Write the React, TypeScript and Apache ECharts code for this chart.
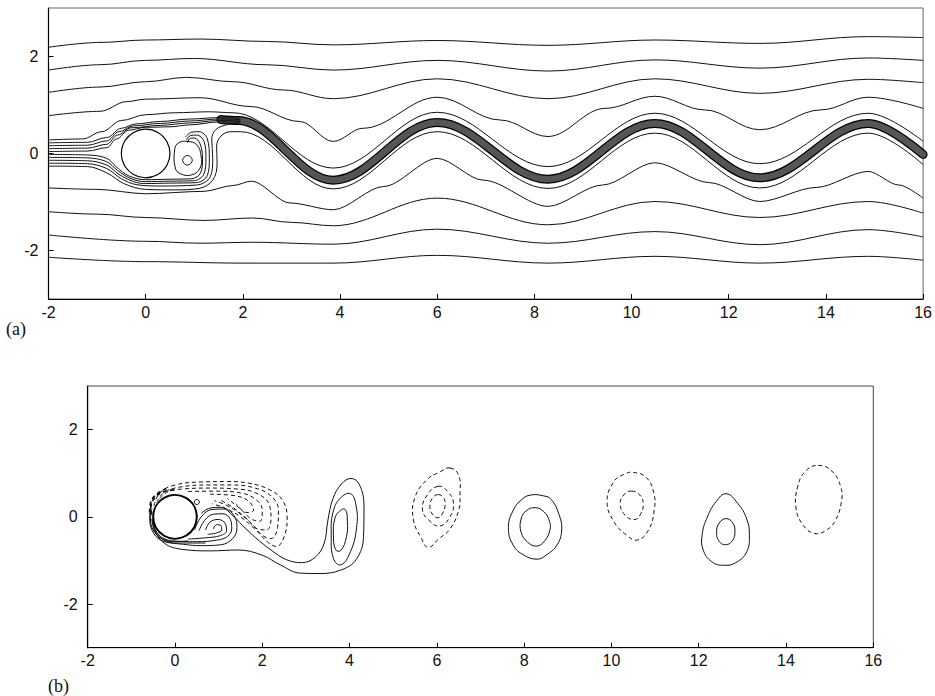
import React, { useEffect, useRef } from "react";
import * as echarts from "echarts";

// ---------- axes ----------
const xTickValues = [-2, 0, 2, 4, 6, 8, 10, 12, 14, 16];
const yTickValues = [-2, 0, 2];

// ---------- panel (a): streamlines ----------
const aLine1 = [[-2, 2.19], [-0.94, 2.29], [0, 2.34], [1.12, 2.36], [2.49, 2.31], [3.86, 2.24], [6.0, 2.33], [8.28, 2.23], [10.48, 2.34], [12.64, 2.27], [14.87, 2.41], [16, 2.39]];
const aLine2 = [[-2, 1.72], [-0.94, 1.83], [0, 1.92], [0.98, 1.96], [2.49, 1.83], [3.86, 1.72], [6.0, 1.92], [8.28, 1.7], [10.48, 1.93], [12.64, 1.76], [14.87, 1.97], [16, 1.92]];
const aLine3 = [[-2, 1.26], [-0.94, 1.37], [0, 1.48], [0.84, 1.57], [1.8, 1.48], [2.83, 1.31], [3.86, 1.13], [6.0, 1.54], [8.28, 1.13], [10.48, 1.54], [12.64, 1.24], [14.87, 1.53], [16, 1.46]];
const aLine4 = [[-2, 0.78], [-0.94, 0.87], [-0.39, 1.07], [0, 1.12], [1.12, 1.15], [2.15, 0.97], [3.17, 0.66], [3.86, 0.25], [4.47, 0.52], [6.0, 1.16], [7.3, 0.69], [8.28, 0.35], [9.45, 0.93], [10.48, 1.18], [11.5, 0.9], [12.64, 0.49], [13.9, 0.9], [14.87, 1.16], [16, 0.93]];
const aLine5 = [[-2, 0.28], [-1.3, 0.3], [-0.9, 0.45], [-0.5, 0.68], [0, 0.8], [0.6, 0.84], [1.3, 0.86], [1.8, 0.84], [3.86, -0.3], [6.0, 0.85], [8.28, -0.27], [10.48, 0.83], [12.64, -0.21], [14.87, 0.83], [16, 0.25]];
const aLine6 = [[-2, -0.26], [-1.2, -0.27], [-0.8, -0.4], [-0.45, -0.62], [0, -0.74], [0.6, -0.75], [1.1, -0.72], [1.38, -0.55], [1.47, -0.2], [1.46, 0.15], [1.55, 0.36], [1.75, 0.45], [1.95, 0.45], [3.86, -0.73], [6.0, 0.45], [8.28, -0.72], [10.48, 0.42], [12.64, -0.71], [14.87, 0.42], [16, -0.23]];
const aLine7 = [[-2, -0.71], [-1, -0.74], [0, -0.83], [1.2, -0.78], [1.8, -0.66], [2.18, -0.57], [2.97, -1.02], [3.86, -1.16], [4.9, -0.68], [6.0, -0.1], [6.95, -0.55], [8.28, -1.09], [9.4, -0.65], [10.48, -0.19], [11.6, -0.6], [12.64, -0.99], [13.8, -0.7], [14.87, -0.37], [15.5, -0.65], [16, -0.92]];
const aLine8 = [[-2, -1.2], [-1, -1.25], [0, -1.32], [1.2, -1.38], [2.2, -1.33], [3.0, -1.42], [3.86, -1.49], [6.0, -0.92], [8.28, -1.47], [10.48, -0.99], [12.64, -1.32], [14.87, -0.99], [16, -1.23]];
const aLine9 = [[-2, -1.68], [0, -1.81], [1.12, -1.85], [2.2, -1.83], [3.86, -1.87], [6.0, -1.56], [8.28, -1.85], [10.48, -1.61], [12.64, -1.88], [14.87, -1.57], [16, -1.72]];
const aLine10 = [[-2, -2.14], [0, -2.23], [2, -2.26], [3.86, -2.26], [6.0, -2.1], [8.28, -2.26], [10.48, -2.12], [12.64, -2.26], [14.87, -2.12], [16, -2.2]];
const aWake = [[1.55, 0.7], [1.9, 0.68], [3.86, -0.55], [6.0, 0.64], [8.28, -0.53], [10.48, 0.62], [12.64, -0.5], [14.87, 0.62], [16, -0.02]];

const aUpper1 = [[-2, 0.22], [-1.2, 0.23], [-0.8, 0.33], [-0.5, 0.52], [-0.2, 0.61], [0.3, 0.66], [0.9, 0.71], [1.5, 0.74], [1.95, 0.73]];
const aUpper2 = [[-2, 0.16], [-1.2, 0.17], [-0.8, 0.26], [-0.55, 0.45], [-0.25, 0.57], [0.3, 0.62], [0.9, 0.67], [1.5, 0.71], [1.95, 0.7]];
const aUpper3 = [[-2, 0.1], [-1.2, 0.11], [-0.8, 0.19], [-0.58, 0.38], [-0.3, 0.53], [0.3, 0.58], [0.9, 0.63], [1.5, 0.68], [1.95, 0.67]];
const aUpper4 = [[-2, 0.04], [-1.2, 0.05], [-0.8, 0.12], [-0.6, 0.3], [-0.35, 0.48], [0, 0.54], [0.5, 0.55], [0.9, 0.59], [1.5, 0.65], [1.95, 0.65]];
const aLower1 = [[-2, -0.02], [-1.2, -0.03], [-0.8, -0.1], [-0.6, -0.28], [-0.35, -0.46], [0, -0.54], [0.5, -0.53], [0.95, -0.52], [1.13, -0.4], [1.17, -0.1], [1.12, 0.2], [1.0, 0.32], [0.9, 0.3], [0.86, 0.22]];
const aLower2 = [[-2, -0.08], [-1.2, -0.09], [-0.8, -0.17], [-0.58, -0.35], [-0.3, -0.52], [0, -0.58], [0.5, -0.57], [1.0, -0.56], [1.2, -0.42], [1.24, -0.1], [1.2, 0.25], [1.05, 0.38], [0.92, 0.37], [0.84, 0.28]];
const aLower3 = [[-2, -0.14], [-1.2, -0.15], [-0.8, -0.24], [-0.55, -0.43], [-0.25, -0.58], [0, -0.62], [0.5, -0.61], [1.05, -0.6], [1.27, -0.45], [1.31, -0.1], [1.27, 0.3], [1.1, 0.45], [0.95, 0.44], [0.82, 0.34]];
const aLower4 = [[-2, -0.2], [-1.2, -0.21], [-0.8, -0.31], [-0.5, -0.52], [-0.2, -0.64], [0.3, -0.67], [1.05, -0.65], [1.33, -0.48], [1.38, -0.1], [1.36, 0.3], [1.45, 0.5], [1.7, 0.6], [1.95, 0.63]];
const aEddyLoops = [
  [[0.6, 0.1], [0.68, 0.22], [0.85, 0.25], [1.05, 0.18], [1.14, -0.05], [1.12, -0.3], [0.95, -0.44], [0.72, -0.42], [0.61, -0.3]],
  [[0.96, -0.14], [0.86, -0.04], [0.76, -0.14], [0.86, -0.24]],
];
const cylinder = { x: 0, y: 0, r: 0.5 };

// ---------- panel (b): vorticity contours ----------
const bOuter = [[-0.5, 0.12], [-0.47, -0.25], [-0.25, -0.6], [0.2, -0.75], [0.8, -0.78], [1.45, -0.76], [2.0, -0.88], [2.41, -1.1], [2.87, -1.29], [3.3, -1.3], [3.8, -1.22], [4.15, -0.98], [4.32, -0.45], [4.33, 0.25], [4.22, 0.75], [4.03, 0.88], [3.82, 0.76], [3.62, 0.42], [3.5, -0.1], [3.42, -0.6], [3.22, -0.92], [2.9, -1.05], [2.55, -0.98], [2.2, -0.76], [1.85, -0.48], [1.55, -0.2], [1.3, 0.05], [1.05, 0.22], [0.8, 0.2], [0.6, 0.08]];
const bRoll1 = [[0.45, -0.3], [0.6, 0.0], [0.85, 0.17], [1.12, 0.18], [1.35, 0.03], [1.42, -0.25], [1.32, -0.5], [1.05, -0.64], [0.6, -0.66], [0.2, -0.63], [-0.2, -0.56], [-0.45, -0.35], [-0.53, -0.05]];
const bRoll2 = [[0.55, -0.32], [0.68, -0.08], [0.88, 0.06], [1.1, 0.07], [1.27, -0.06], [1.3, -0.28], [1.2, -0.45], [0.98, -0.53], [0.5, -0.57], [0.1, -0.56], [-0.25, -0.5], [-0.45, -0.3], [-0.52, -0.05]];
const bRoll3 = [[0.7, -0.3], [0.8, -0.12], [0.99, -0.06], [1.15, -0.15], [1.18, -0.32], [1.04, -0.43], [0.7, -0.48], [0.3, -0.51]];
const bRoll4 = [[0.88, -0.28], [0.95, -0.18], [1.05, -0.2], [1.07, -0.3], [0.95, -0.37], [0.75, -0.4]];
const bHug1 = [[-0.53, 0.2], [-0.56, -0.05], [-0.5, -0.3], [-0.3, -0.5], [0.0, -0.57], [0.3, -0.55]];
const bHug2 = [[-0.55, 0.3], [-0.58, 0.0], [-0.52, -0.32], [-0.33, -0.53], [0.0, -0.6], [0.35, -0.6], [0.7, -0.6]];
const bNeg1 = [[-0.48, 0.25], [-0.35, 0.55], [0.0, 0.73], [0.6, 0.8], [1.2, 0.81], [1.7, 0.77], [2.15, 0.63], [2.45, 0.4], [2.57, 0.0], [2.52, -0.4], [2.33, -0.68], [2.15, -0.6], [1.85, -0.3], [1.5, 0.0], [1.15, 0.2], [0.85, 0.3]];
const bNeg2 = [[-0.42, 0.33], [-0.25, 0.56], [0.1, 0.68], [0.7, 0.73], [1.3, 0.73], [1.8, 0.67], [2.2, 0.48], [2.37, 0.15], [2.35, -0.25], [2.2, -0.5], [2.0, -0.42], [1.75, -0.15], [1.45, 0.1], [1.15, 0.28], [0.9, 0.37]];
const bNeg3 = [[-0.35, 0.42], [-0.15, 0.58], [0.2, 0.64], [0.8, 0.66], [1.4, 0.64], [1.85, 0.55], [2.15, 0.3], [2.2, -0.05], [2.1, -0.3], [1.9, -0.28], [1.65, -0.05], [1.35, 0.2], [1.05, 0.38]];
const bNeg4 = [[0.3, 0.58], [0.9, 0.59], [1.5, 0.55], [1.85, 0.4], [2.0, 0.15], [1.95, -0.1], [1.75, -0.05], [1.5, 0.18], [1.2, 0.42]];
const bNeg5 = [[0.8, 0.52], [1.4, 0.48], [1.7, 0.35], [1.8, 0.15], [1.65, 0.1], [1.4, 0.3]];
const bNegHug1 = [[-0.55, 0.05], [-0.55, 0.25], [-0.45, 0.45], [-0.25, 0.58], [0.0, 0.62]];
const bNegHug2 = [[-0.58, 0.1], [-0.56, 0.32], [-0.42, 0.52], [-0.2, 0.65]];
const bSolidLoops = [
  [[0.56, 0.34], [0.5, 0.4], [0.44, 0.34], [0.5, 0.28]],
  [[4.02, 0.53], [4.15, 0.25], [4.16, -0.25], [4.02, -0.8], [3.8, -1.1], [3.63, -0.95], [3.58, -0.4], [3.62, 0.1], [3.78, 0.42]],
  [[3.9, 0.17], [3.95, -0.1], [3.93, -0.45], [3.8, -0.77], [3.68, -0.75], [3.63, -0.4], [3.66, -0.05], [3.76, 0.12]],
  [[8.15, 0.5], [8.45, 0.48], [8.62, 0.4], [8.8, 0.05], [8.86, -0.3], [8.75, -0.65], [8.5, -0.88], [8.3, -0.97], [8.0, -0.88], [7.75, -0.65], [7.64, -0.25], [7.75, 0.15], [7.95, 0.4]],
  [[8.25, 0.21], [8.45, 0.12], [8.58, -0.1], [8.59, -0.3], [8.47, -0.55], [8.29, -0.67], [8.08, -0.58], [7.93, -0.35], [7.93, -0.05], [8.05, 0.14]],
  [[12.63, 0.53], [12.9, 0.3], [13.1, -0.05], [13.16, -0.4], [13.1, -0.8], [12.85, -1.05], [12.57, -1.11], [12.3, -1.03], [12.1, -0.75], [12.08, -0.4], [12.2, 0.0], [12.4, 0.35]],
  [[12.63, -0.04], [12.78, -0.14], [12.83, -0.34], [12.77, -0.55], [12.61, -0.64], [12.46, -0.55], [12.41, -0.34], [12.47, -0.14]],
];
const bDashedLoops = [
  [[6.3, 1.12], [6.5, 0.95], [6.53, 0.5], [6.5, 0.15], [6.3, -0.28], [6.05, -0.5], [5.8, -0.7], [5.65, -0.5], [5.46, -0.05], [5.5, 0.45], [5.77, 0.85], [6.07, 1.03]],
  [[6.03, 0.7], [6.25, 0.58], [6.38, 0.32], [6.3, 0.0], [6.07, -0.21], [5.82, -0.08], [5.67, 0.17], [5.78, 0.5]],
  [[6.03, 0.51], [6.15, 0.44], [6.19, 0.28], [6.13, 0.08], [6.03, -0.02], [5.9, 0.06], [5.84, 0.24], [5.9, 0.43]],
  [[10.5, 1.02], [10.8, 0.9], [10.97, 0.55], [10.98, 0.15], [10.85, -0.3], [10.6, -0.53], [10.35, -0.42], [10.05, -0.1], [9.9, 0.35], [10.05, 0.8], [10.3, 0.98]],
  [[10.46, 0.59], [10.65, 0.5], [10.73, 0.29], [10.66, 0.05], [10.54, -0.06], [10.33, 0.02], [10.2, 0.29], [10.3, 0.52]],
  [[14.74, 1.18], [15.05, 1.05], [15.25, 0.7], [15.27, 0.35], [15.12, -0.1], [14.9, -0.32], [14.66, -0.38], [14.4, -0.2], [14.23, 0.2], [14.27, 0.7], [14.45, 1.05]],
];

const INK = "#111";
const FONT = "'Liberation Sans', Arial, sans-serif";

function lineS(data: number[][], gi: number, o: any = {}) {
  return {
    type: "line",
    xAxisIndex: gi,
    yAxisIndex: gi,
    data,
    symbol: "none",
    showSymbol: false,
    silent: true,
    smooth: o.smooth ?? 0.36,
    smoothMonotone: o.mono ? "x" : undefined,
    clip: true,
    z: o.z ?? 2,
    lineStyle: {
      color: o.color ?? INK,
      width: o.width ?? 1,
      type: o.dash ? [4, 3] : "solid",
      cap: o.cap ?? "butt",
    },
  };
}

function loopS(loops: number[][][], gi: number, dashed: boolean) {
  return {
    type: "custom",
    coordinateSystem: "cartesian2d",
    xAxisIndex: gi,
    yAxisIndex: gi,
    silent: true,
    z: 3,
    data: loops.map((l, i) => [l[0][0], l[0][1], i]),
    renderItem: (params: any, api: any) => ({
      type: "polygon",
      shape: { points: loops[params.dataIndex].map((p) => api.coord(p)), smooth: 0.45 },
      style: { fill: "none", stroke: INK, lineWidth: 1, lineDash: dashed ? [4, 3] : null },
    }),
  };
}

function cylS(gi: number, lw: number) {
  return {
    type: "custom",
    coordinateSystem: "cartesian2d",
    xAxisIndex: gi,
    yAxisIndex: gi,
    silent: true,
    z: 10,
    data: [[cylinder.x, cylinder.y, cylinder.r]],
    renderItem: (params: any, api: any) => {
      const c = api.coord([api.value(0), api.value(1)]);
      const r = api.size([api.value(2), 0])[0];
      return { type: "circle", shape: { cx: c[0], cy: c[1], r }, style: { fill: "#fff", stroke: "#000", lineWidth: lw } };
    },
  };
}

function xAx(gi: number) {
  return {
    type: "value",
    gridIndex: gi,
    min: -2,
    max: 16,
    interval: 2,
    axisLine: { onZero: false, lineStyle: { color: "#000", width: 1.2 } },
    axisTick: { inside: true, length: 5, customValues: xTickValues, lineStyle: { color: "#000" } },
    axisLabel: { margin: 5, color: INK, fontSize: 16, fontFamily: FONT, customValues: xTickValues },
    splitLine: { show: false },
  };
}
function yAx(gi: number) {
  return {
    type: "value",
    gridIndex: gi,
    min: -3,
    max: 3,
    interval: 1,
    axisLine: { onZero: false, lineStyle: { color: "#000", width: 1.2 } },
    axisTick: { inside: true, length: 5, customValues: yTickValues, lineStyle: { color: "#000" } },
    axisLabel: { margin: 10, color: INK, fontSize: 16, fontFamily: FONT, customValues: yTickValues },
    splitLine: { show: false },
  };
}

export default function App() {
  const ref = useRef<HTMLDivElement>(null);
  useEffect(() => {
    if (!ref.current) return;
    const chart = echarts.init(ref.current, null, { renderer: "svg" });
    const aMono = [aLine1, aLine2, aLine3, aLine4, aLine5, aLine8, aLine9, aLine10];
    const series: any[] = [
      ...aMono.map((d) => lineS(d, 0, { mono: true })),
      lineS(aLine7, 0, { mono: true, smooth: 0.3 }),
      lineS(aLine6, 0),
      lineS(aWake, 0, { width: 9, color: "#000", mono: true, z: 1, cap: "round" }),
      lineS(aWake, 0, { width: 6.5, color: "#555", mono: true, z: 1, cap: "round" }),
      ...[aUpper1, aUpper2, aUpper3, aUpper4].map((d) => lineS(d, 0, { mono: true })),
      ...[aLower1, aLower2, aLower3, aLower4].map((d) => lineS(d, 0)),
      loopS(aEddyLoops, 0, false),
      cylS(0, 1.2),
      // panel b
      lineS(bOuter, 1, { smooth: 0.4 }),
      ...[bRoll1, bRoll2, bRoll3, bRoll4, bHug1, bHug2].map((d) => lineS(d, 1, { smooth: 0.4 })),
      ...[bNeg1, bNeg2, bNeg3, bNeg4, bNeg5].map((d) => lineS(d, 1, { smooth: 0.4, dash: true })),
      ...[bNegHug1, bNegHug2].map((d) => lineS(d, 1, { smooth: 0.4, dash: true, width: 1.8 })),
      loopS(bSolidLoops, 1, false),
      loopS(bDashedLoops, 1, true),
      cylS(1, 2),
    ];
    chart.setOption({
      animation: false,
      backgroundColor: "#fff",
      grid: [
        { left: 48.5, top: 8, width: 875.5, height: 291, show: true, borderColor: "#666", borderWidth: 1 },
        { left: 87.7, top: 386, width: 785.6, height: 261.7, show: true, borderColor: "#444", borderWidth: 1 },
      ],
      xAxis: [xAx(0), xAx(1)],
      yAxis: [yAx(0), yAx(1)],
      series,
      graphic: [
        { type: "text", left: 6, top: 320, style: { text: "(a)", font: "18px 'Liberation Serif', 'Times New Roman', serif", fill: INK } },
        { type: "text", left: 48, top: 677, style: { text: "(b)", font: "18px 'Liberation Serif', 'Times New Roman', serif", fill: INK } },
      ],
    });
    return () => chart.dispose();
  }, []);
  return <div ref={ref} style={{ position: "absolute", left: 0, top: 0, width: 935, height: 696 }} />;
}
